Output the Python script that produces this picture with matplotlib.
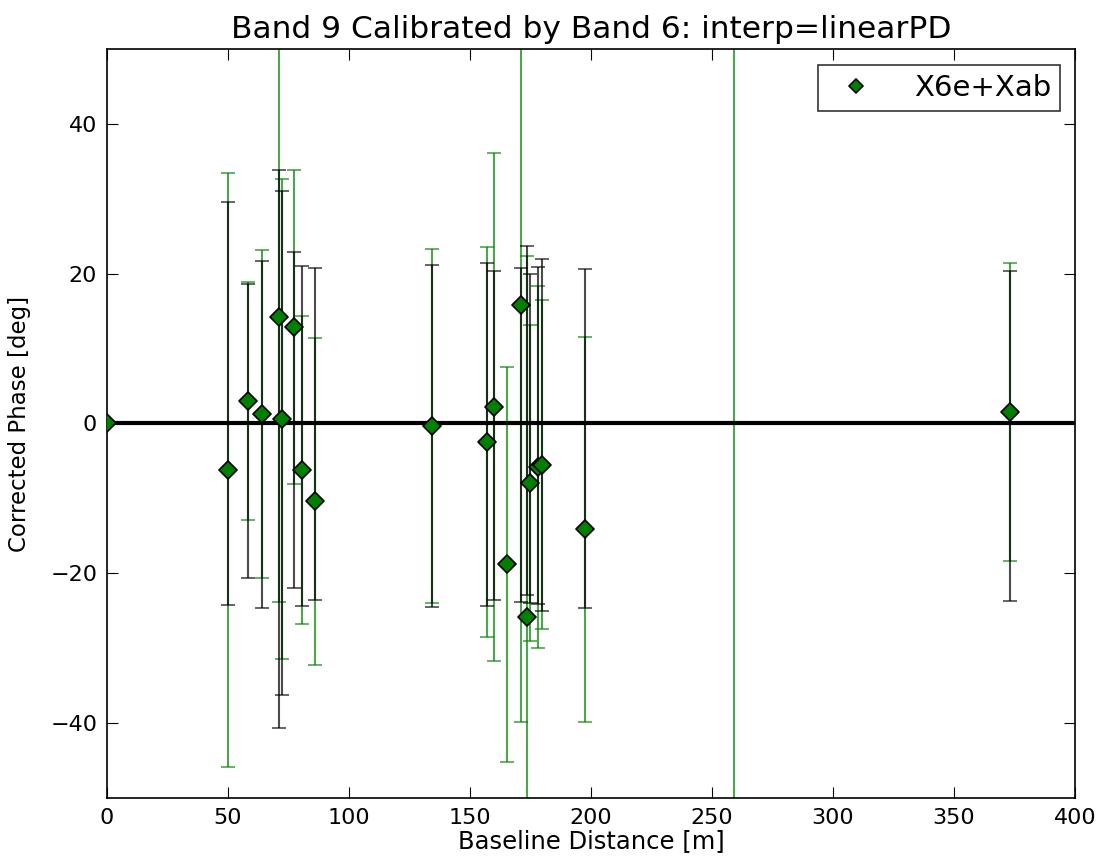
"""Band 9 phase calibrated by Band 6 vs baseline distance."""

import numpy as np
import matplotlib

matplotlib.use("Agg")
import matplotlib.pyplot as plt
from matplotlib.markers import MarkerStyle

# baseline distance [m] and corrected phase [deg]
baseline = [0.0, 49.9, 58.3, 63.9, 71.2, 72.4, 77.4, 80.7, 86.0, 134.2, 156.9,
            160.1, 165.2, 170.9, 173.4, 174.8, 178.2, 179.6, 197.5, 259.0, 373.0]
phase = [0.0, -6.2, 3.0, 1.3, 14.2, 0.6, 12.9, -6.2, -10.4, -0.3, -2.5,
         2.2, -18.8, 15.8, -25.9, -7.9, -5.8, -5.5, -14.1, 95.0, 1.5]
phase_err = [0.0, 39.6, 15.9, 21.9, 38.0, 32.1, 21.0, 20.6, 21.8, 23.6, 26.0,
             33.9, 26.4, 55.6, 48.2, 21.1, 24.2, 22.0, 25.7, 160.0, 19.9]

# second set of error bars (no markers)
ref_center = [np.nan, 2.7, -1.0, -1.5, -3.4, -2.6, 0.5, -1.7, -1.4, -1.7, -1.5,
              -1.6, np.nan, -1.5, 0.4, -2.0, -1.6, -1.5, -2.0, np.nan, -1.7]
ref_err = [np.nan, 26.9, 19.6, 23.2, 37.2, 33.7, 22.4, 22.7, 22.1, 22.8, 22.9,
           22.0, np.nan, 22.3, 23.3, 21.9, 22.5, 23.5, 22.6, np.nan, 22.0]

label = "X6e+Xab"

fig = plt.figure(figsize=(11.05, 8.66), dpi=100)
ax = fig.add_axes([0.0968, 0.0785, 0.876, 0.865])

ax.errorbar(baseline, phase, yerr=phase_err, fmt="none", ecolor="green",
            elinewidth=1.5, capsize=5, capthick=1.2, alpha=0.7, zorder=2)
ax.errorbar(baseline, ref_center, yerr=ref_err, fmt="none", ecolor="black",
            elinewidth=1.5, capsize=5, capthick=1.2, alpha=0.7, zorder=2)
ax.axhline(0, color="black", lw=3, zorder=3)
diamond = MarkerStyle("D", joinstyle="round")
ax.plot(baseline, phase, linestyle="none", marker=diamond, color="green",
        mec="black", mew=1.2, ms=9.5, label=label, zorder=4)

ax.set_xlim(0, 400)
ax.set_ylim(-50, 50)
ax.set_xticks(np.arange(0, 401, 50))
ax.set_yticks([-40, -20, 0, 20, 40])
ax.tick_params(direction="in", length=8, top=True, right=True, labelsize=16,
               pad=7)
for s in ax.spines.values():
    s.set_linewidth(1.2)

ax.set_xlabel("Baseline Distance [m]", fontsize=17.5, labelpad=1)
ax.set_ylabel("Corrected Phase [deg]", fontsize=16.5, labelpad=14)
ax.set_title("Band 9 Calibrated by Band 6: interp=linearPD", fontsize=22.5,
             pad=8)

leg = ax.legend(loc="upper right", numpoints=1, fontsize=21, fancybox=False,
                bbox_to_anchor=(0.985, 0.978), borderaxespad=0,
                handletextpad=1.0, borderpad=0.3, markerscale=0.8)
leg.get_frame().set_edgecolor("black")
leg.get_frame().set_linewidth(1.2)

fig.savefig("out.png", dpi=100)
